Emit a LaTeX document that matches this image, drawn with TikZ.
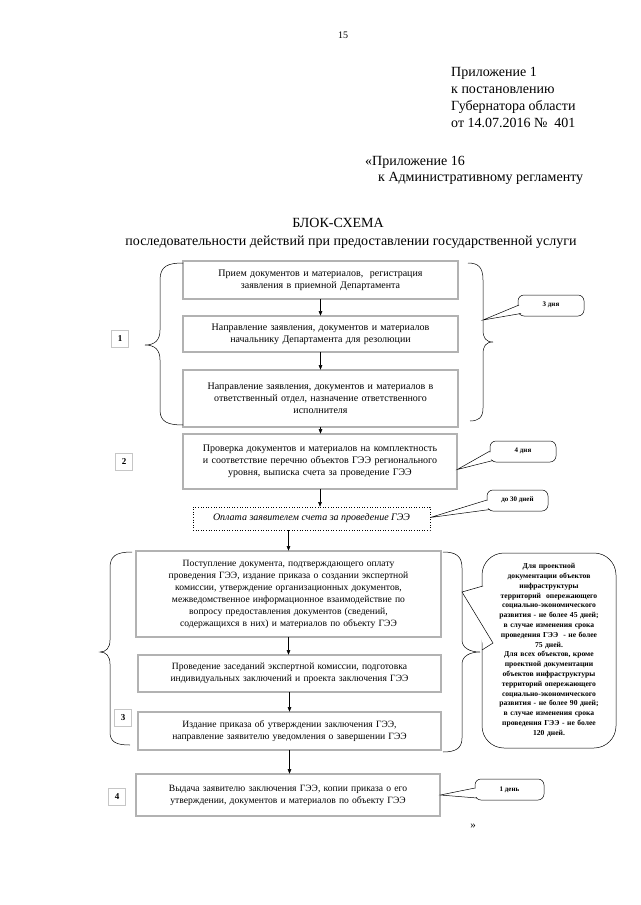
\documentclass[tikz,border=0pt]{standalone}
\usepackage{fontspec}
\setmainfont{Liberation Serif}
\usetikzlibrary{arrows.meta,calc}
\begin{document}
\begin{tikzpicture}[x=1pt,y=-1pt,
  pbox/.style={draw, line width=0.6pt, double=gray!60, double distance=1.2pt, align=center, inner sep=2pt, font=\fontsize{10}{12}\selectfont},
  dbox/.style={draw, dotted, line width=0.6pt, align=center, inner sep=2pt, font=\fontsize{10}{12}\selectfont\itshape},
  numbox/.style={draw, line width=0.5pt, double=gray!45, double distance=0.7pt, minimum size=17pt, inner sep=0pt, font=\fontsize{9}{10}\selectfont\bfseries},
  bubble/.style={draw, line width=0.5pt, rounded corners=6pt},
  btext/.style={font=\fontsize{7}{8}\selectfont\bfseries, inner sep=0pt},
  arr/.style={-{Triangle[length=4.5pt,width=3.5pt]}, line width=0.5pt},
  brace/.style={line width=0.5pt},
  hdr/.style={anchor=base west, inner sep=0pt, font=\fontsize{14}{16}\selectfont}
]
\useasboundingbox (0,0) rectangle (640,905);

% header
\node[inner sep=0pt, font=\fontsize{10}{12}\selectfont] (pg) at (343,35) {15};
\node[hdr] (h1) at (451,76) {Приложение 1};
\node[hdr] (h2) at (451,93) {к постановлению};
\node[hdr] (h3) at (451,110) {Губернатора области};
\node[hdr] (h4) at (451,127) {от 14.07.2016 №\ \ 401};
\node[hdr] (h5) at (365,165) {«Приложение 16};
\node[hdr] (h6) at (378,181) {к Административному регламенту};
\node[inner sep=0pt, anchor=base, font=\fontsize{14}{16}\selectfont] (t1) at (338,227) {БЛОК-СХЕМА};
\node[inner sep=0pt, anchor=base, font=\fontsize{14}{16}\selectfont] (t2) at (351,245) {последовательности действий при предоставлении государственной услуги};

% group 1
\node[pbox, minimum width=275pt, minimum height=38pt, text width=268pt] (A) at (320.5,280) {Прием документов и материалов,\ \ регистрация\\заявления в приемной Департамента};
\node[pbox, minimum width=275pt, minimum height=36pt, text width=268pt] (B) at (320.5,334) {Направление заявления, документов и материалов\\начальнику Департамента для резолюции};
\node[pbox, minimum width=275pt, minimum height=57pt, text width=268pt] (C) at (320.5,398.5) {Направление заявления, документов и материалов в\\ответственный отдел, назначение ответственного\\исполнителя};

% group 2
\node[pbox, minimum width=274pt, minimum height=55pt, text width=268pt] (P) at (320,461.5) {Проверка документов и материалов на комплектность\\и соответствие перечню объектов ГЭЭ регионального\\уровня, выписка счета за проведение ГЭЭ};
\node[dbox, minimum width=237pt, minimum height=23pt] (O) at (311.5,518.5) {Оплата заявителем счета за проведение ГЭЭ};

% group 3
\node[pbox, minimum width=305pt, minimum height=86pt, text width=298pt, font=\fontsize{9.6}{12}\selectfont] (D) at (288.5,594) {Поступление документа, подтверждающего оплату\\проведения ГЭЭ, издание приказа о создании экспертной\\комиссии, утверждение организационных документов,\\межведомственное информационное взаимодействие по\\вопросу предоставления документов (сведений,\\содержащихся в них) и материалов по объекту ГЭЭ};
\node[pbox, minimum width=303pt, minimum height=37pt, text width=296pt, font=\fontsize{9.6}{12}\selectfont] (E) at (289.5,673.5) {Проведение заседаний экспертной комиссии, подготовка\\индивидуальных заключений и проекта заключения ГЭЭ};
\node[pbox, minimum width=303pt, minimum height=38pt, text width=296pt, font=\fontsize{9.6}{12}\selectfont] (F) at (289.5,731) {Издание приказа об утверждении заключения ГЭЭ,\\направление заявителю уведомления о завершении ГЭЭ};

% group 4
\node[pbox, minimum width=304pt, minimum height=42pt, text width=297pt, font=\fontsize{9.6}{12}\selectfont] (G) at (288,795) {Выдача заявителю заключения ГЭЭ, копии приказа о его\\утверждении, документов и материалов по объекту ГЭЭ};

% arrows
\draw[arr] (A) -- (B);
\draw[arr] (B) -- (C);
\draw[arr] (C.south) -- (C.south |- P.north);
\draw[arr] (P.south) -- (P.south |- O.north);
\draw[arr] (D.north |- O.south) -- (D.north);
\draw[arr] (D) -- (D |- E.north);
\draw[arr] (E) -- (F);
\draw[arr] (F.south) -- (F.south |- G.north);

% number boxes
\node[numbox] (n1) at (120,339) {1};
\node[numbox] (n2) at (124,462) {2};
\node[numbox] (n3) at (123,718) {3};
\node[numbox] (n4) at (117,797) {4};

% braces
\draw[brace] (183,263) .. controls (168,263) and (160,266) .. (160,280) -- (160,330) .. controls (160,340) and (155,345) .. (145,345) .. controls (155,345) and (160,350) .. (160,360) -- (160,410) .. controls (160,422) and (168,425) .. (183,425);
\draw[brace] (468,263) .. controls (478,263) and (483,267) .. (483,280) -- (483,330) .. controls (483,338) and (486,342) .. (493,342) .. controls (486,342) and (483,346) .. (483,354) -- (483,408) .. controls (483,418) and (478,421) .. (470,421);
\draw[brace] (132,552) .. controls (116,552) and (110,556) .. (110,568) -- (110,640) .. controls (110,648) and (106,652) .. (100,652) .. controls (106,652) and (110,656) .. (110,664) -- (110,732) .. controls (110,742) and (116,745) .. (130,745);
\draw[brace] (443,552) .. controls (456,552) and (462,556) .. (462,568) -- (462,640) .. controls (462,648) and (470,652) .. (480,652) .. controls (470,652) and (462,656) .. (462,664) -- (462,738) .. controls (462,748) and (456,752) .. (443,752);

% callout 3 дня
\draw[bubble] (518,295) rectangle (584,316);
\node[btext] (c1) at (551,305) {3 дня};
\coordinate (k1) at (483,320);
\fill[white] (k1) -- (521,305) -- (521,313) -- cycle;
\draw[line width=0.5pt] (519,305) -- (k1) -- (521,313.5);

% callout 4 дня
\draw[bubble] (490,441) rectangle (556,462);
\node[btext] (c2) at (523,451) {4 дня};
\coordinate (k2) at ($(P.east)+(0,8)$);
\fill[white] (k2) -- (493,451) -- (493,459) -- cycle;
\draw[line width=0.5pt] (490,451) -- (k2) -- (493,460.5);

% callout до 30 дней
\draw[bubble] (487,490) rectangle (548,511);
\node[btext] (c3) at (517.5,500) {до 30 дней};
\coordinate (k3) at ($(O.east)+(0,-1)$);
\fill[white] (k3) -- (490,500) -- (490,508) -- cycle;
\draw[line width=0.5pt] (487,500) -- (k3) -- (490,509.5);

% callout 1 день
\draw[bubble] (475,779) rectangle (544,800);
\node[btext] (c4) at (509.5,789.5) {1 день};
\coordinate (k4) at (G.east);
\fill[white] (k4) -- (478,788) -- (478,797) -- cycle;
\draw[line width=0.5pt] (475,788) -- (k4) -- (477,798);

% big callout
\draw[line width=0.5pt, rounded corners=22pt] (482,553) rectangle (616,748);
\coordinate (k5) at (462,592);
\fill[white] (k5) -- (486,585) -- (486,651) -- cycle;
\draw[line width=0.5pt] (483,586) -- (k5) -- (493,643) -- (482,650);
\node[align=center, inner sep=0pt, text width=130pt, font=\fontsize{7.6}{9.8}\selectfont\bfseries] (c5) at (549,650) {Для проектной\\документации объектов\\инфраструктуры\\территорий\ \ опережающего\\социально-экономического\\развития - не более 45 дней;\\в случае изменения срока\\проведения ГЭЭ\ \ - не более\\75 дней.\\Для всех объектов, кроме\\проектной документации\\объектов инфраструктуры\\территорий опережающего\\социально-экономического\\развития - не более 90 дней;\\в случае изменения срока\\проведения ГЭЭ - не более\\120 дней.};

\node[inner sep=0pt, font=\fontsize{11}{12}\selectfont] (q) at (473,826) {»};
\end{tikzpicture}
\end{document}
